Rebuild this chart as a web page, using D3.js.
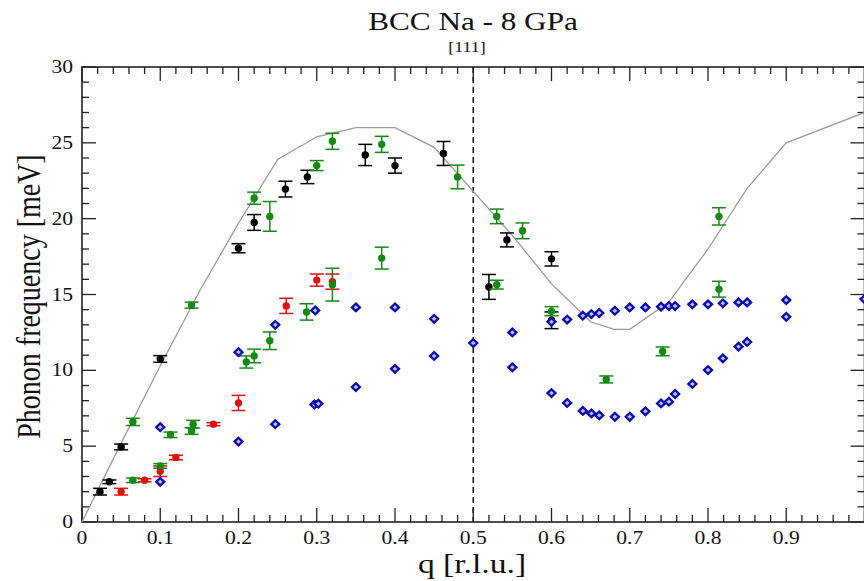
<!DOCTYPE html>
<html>
<head>
<meta charset="utf-8">
<script src="https://cdn.jsdelivr.net/npm/d3@7"></script>
<style>
  body { margin: 0; background: #fff; }
  svg text { font-family: "Liberation Serif", "Times New Roman", Times, serif; fill: #111; }
</style>
</head>
<body>
<div id="chart"></div>
<script>
// theory curve [q, E]
var theory = [[0, 0], [0.05, 5.2], [0.1, 10.3], [0.15, 15.2], [0.2, 19.7], [0.25, 23.9],
  [0.3, 25.4], [0.35, 26.0], [0.4, 26.0], [0.45, 24.7], [0.5, 21.8], [0.55, 18.9],
  [0.6, 15.7], [0.65, 13.2], [0.68, 12.7], [0.7, 12.7], [0.75, 14.5], [0.8, 18.0],
  [0.85, 22.0], [0.9, 25.0], [1.0, 27.0]];

// measured points [q, E, error]
var blackPts = [[0.023, 2.0, 0.22], [0.035, 2.65, 0.12], [0.05, 4.95, 0.19], [0.1, 10.75, 0.22],
  [0.2, 18.05, 0.3], [0.22, 19.75, 0.52], [0.26, 21.95, 0.52], [0.288, 22.75, 0.44],
  [0.362, 24.2, 0.7], [0.4, 23.5, 0.5], [0.462, 24.3, 0.79], [0.52, 15.5, 0.82],
  [0.543, 18.6, 0.46], [0.6, 17.35, 0.47], [0.6, 13.3, 0.55]];

var redPts = [[0.05, 2.0, 0.22], [0.08, 2.75, 0.1], [0.1, 3.35, 0.35], [0.12, 4.25, 0.15],
  [0.168, 6.45, 0.1], [0.2, 7.85, 0.5], [0.261, 14.25, 0.5], [0.3, 15.95, 0.4], [0.32, 15.85, 0.5]];

var greenPts = [[0.065, 2.75, 0.15], [0.065, 6.6, 0.24], [0.1, 3.7, 0.15], [0.113, 5.75, 0.18],
  [0.14, 6.0, 0.22], [0.142, 6.45, 0.25], [0.14, 14.3, 0.2], [0.21, 10.55, 0.4],
  [0.22, 10.95, 0.45], [0.22, 21.35, 0.4], [0.24, 11.95, 0.58], [0.24, 20.15, 0.98],
  [0.287, 13.85, 0.54], [0.3, 23.5, 0.33], [0.32, 15.65, 1.08], [0.32, 25.1, 0.53],
  [0.383, 17.4, 0.72], [0.383, 24.9, 0.53], [0.48, 22.75, 0.78], [0.53, 20.15, 0.48],
  [0.53, 15.65, 0.29], [0.563, 19.2, 0.52], [0.6, 13.9, 0.3], [0.67, 9.4, 0.23],
  [0.742, 11.25, 0.29], [0.814, 15.35, 0.52], [0.814, 20.15, 0.57]];

// calculated points [q, E]
var bluePts = [[0.1, 2.65], [0.1, 6.25], [0.2, 5.3], [0.2, 11.2], [0.247, 6.45], [0.247, 13.0],
  [0.297, 7.75], [0.302, 7.8], [0.298, 13.95], [0.35, 8.9], [0.35, 14.15], [0.4, 10.1],
  [0.4, 14.15], [0.45, 10.95], [0.45, 13.4], [0.5, 11.8], [0.55, 10.2], [0.55, 12.5],
  [0.6, 8.5], [0.6, 13.2], [0.62, 7.85], [0.62, 13.35], [0.64, 7.32], [0.64, 13.6],
  [0.651, 7.16], [0.651, 13.71], [0.661, 7.03], [0.661, 13.78], [0.681, 6.94], [0.681, 13.93],
  [0.7, 6.94], [0.7, 14.15], [0.72, 7.3], [0.72, 14.15], [0.74, 7.82], [0.74, 14.2],
  [0.75, 7.93], [0.75, 14.24], [0.758, 8.44], [0.758, 14.24], [0.78, 9.1], [0.78, 14.35],
  [0.8, 10.02], [0.8, 14.35], [0.819, 10.79], [0.819, 14.42], [0.839, 11.56], [0.839, 14.48],
  [0.85, 11.87], [0.85, 14.48], [0.9, 13.53], [0.9, 14.63], [1.0, 14.7]];

var xTicks = [0, 0.1, 0.2, 0.3, 0.4, 0.5, 0.6, 0.7, 0.8, 0.9];
var yTicks = [0, 5, 10, 15, 20, 25, 30];

var W = 864, H = 581;
var margin = { top: 67, right: 0, bottom: 59, left: 82 };
var width = 782.5, height = H - margin.top - margin.bottom;
var stretch = 1.2; // text in the reference is drawn wider than tall

var svg = d3.select("#chart").append("svg").attr("width", W).attr("height", H);
var g = svg.append("g").attr("transform", "translate(" + margin.left + "," + margin.top + ")");

var x = d3.scaleLinear().domain([0, 1]).range([0, width]);
var y = d3.scaleLinear().domain([0, 30]).range([height, 0]);

function label(px, py, str, size, anchor, rot) {
  return svg.append("text")
    .attr("transform", "translate(" + px + "," + py + ") scale(" + stretch + ",1)" + (rot ? " rotate(" + rot + ")" : ""))
    .attr("text-anchor", anchor)
    .style("font-size", size + "px")
    .text(str);
}

// ticks (inward on all four sides)
var axisCol = "#222";
var xMinor = d3.range(0, 1.0001, 0.02), yMinor = d3.range(0, 30.001, 1);
var xt = g.append("g").attr("stroke", axisCol).attr("stroke-width", 1.3);
xMinor.forEach(function (v) {
  var major = Math.abs(v * 10 - Math.round(v * 10)) < 1e-6;
  var len = major ? 14 : 7;
  xt.append("line").attr("x1", x(v)).attr("x2", x(v)).attr("y1", height).attr("y2", height - len);
  xt.append("line").attr("x1", x(v)).attr("x2", x(v)).attr("y1", 0).attr("y2", len);
});
yMinor.forEach(function (v) {
  var len = v % 5 === 0 ? 14 : 7;
  xt.append("line").attr("y1", y(v)).attr("y2", y(v)).attr("x1", 0).attr("x2", len);
  xt.append("line").attr("y1", y(v)).attr("y2", y(v)).attr("x1", width).attr("x2", width - len);
});

g.append("rect").attr("width", width).attr("height", height)
  .attr("fill", "none").attr("stroke", axisCol).attr("stroke-width", 1.6);

xTicks.forEach(function (v) {
  label(margin.left + x(v), margin.top + height + 22, String(v), 18, "middle");
});
yTicks.forEach(function (v) {
  label(margin.left - 9, margin.top + y(v) + 6, String(v), 18, "end");
});

// dashed line at zone boundary
g.append("line").attr("x1", x(0.5)).attr("x2", x(0.5)).attr("y1", 0).attr("y2", height)
  .attr("stroke", "#111").attr("stroke-width", 1.5).attr("stroke-dasharray", "6,4");

var plot = g.append("g");

plot.append("path").datum(theory)
  .attr("d", d3.line().x(function (d) { return x(d[0]); }).y(function (d) { return y(d[1]); }))
  .attr("fill", "none").attr("stroke", "#9a9a9a").attr("stroke-width", 1.3);

function errSeries(data, color) {
  var s = plot.append("g").attr("stroke", color).attr("stroke-width", 1.5);
  data.forEach(function (d) {
    var cx = x(d[0]), hi = y(d[1] + d[2]), lo = y(d[1] - d[2]);
    s.append("line").attr("x1", cx).attr("x2", cx).attr("y1", hi).attr("y2", lo);
    s.append("line").attr("x1", cx - 7).attr("x2", cx + 7).attr("y1", hi).attr("y2", hi);
    s.append("line").attr("x1", cx - 7).attr("x2", cx + 7).attr("y1", lo).attr("y2", lo);
  });
  plot.append("g").selectAll("circle").data(data).enter().append("circle")
    .attr("cx", function (d) { return x(d[0]); })
    .attr("cy", function (d) { return y(d[1]); })
    .attr("r", 3.7)
    .attr("fill", color);
}

errSeries(blackPts, "#000000");
errSeries(redPts, "#e01010");
errSeries(greenPts, "#138a13");

plot.append("g").selectAll("path").data(bluePts).enter().append("path")
  .attr("transform", function (d) { return "translate(" + x(d[0]) + "," + y(d[1]) + ")"; })
  .attr("d", "M0,-3.8L4,0L0,3.8L-4,0Z")
  .attr("fill", "#b8bce8").attr("stroke", "#0a0ab0").attr("stroke-width", 2.3);

// titles
label(473, 30, "BCC Na - 8 GPa", 26, "middle");
label(467, 52, "[111]", 15, "middle");
label(472, 573, "q [r.l.u.]", 28, "middle");
label(40, margin.top + height / 2 + 2, "Phonon frequency [meV]", 28, "middle", -90);
</script>
</body>
</html>
